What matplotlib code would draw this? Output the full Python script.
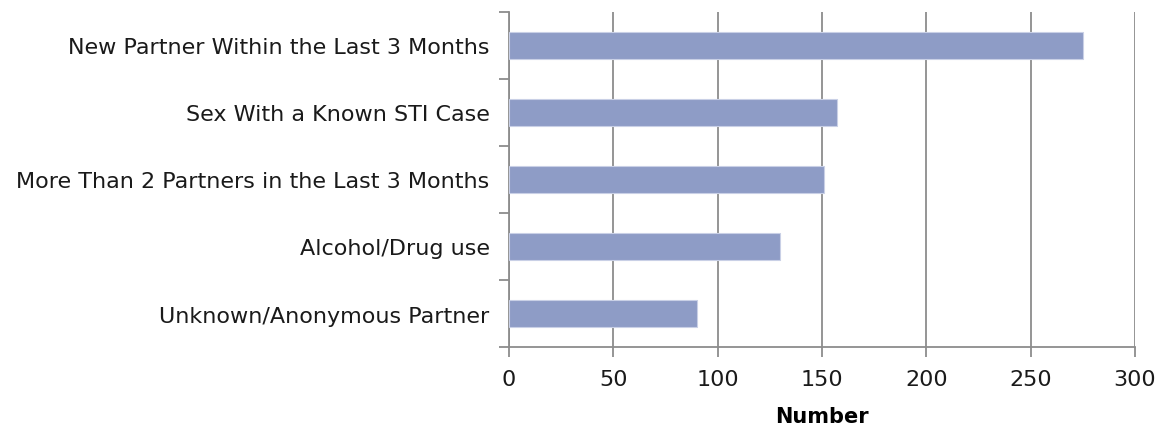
import matplotlib
matplotlib.use("Agg")
import matplotlib.pyplot as plt
from matplotlib.ticker import FixedLocator, NullFormatter

categories = [
    "New Partner Within the Last 3 Months",
    "Sex With a Known STI Case",
    "More Than 2 Partners in the Last 3 Months",
    "Alcohol/Drug use",
    "Unknown/Anonymous Partner",
]
values = [275, 157, 151, 130, 90]
x_ticks = [0, 50, 100, 150, 200, 250, 300]
x_label = "Number"

plt.rcParams['font.family'] = ['DejaVu Sans']
GRID = '#8c8c8c'
BAR = '#8e9cc6'
TXT = '#1a1a1a'

fig = plt.figure(figsize=(11.57, 4.27), dpi=100)
ax = fig.add_axes([0.4399, 0.185, 0.981 - 0.4399, 0.9696 - 0.185])

ypos = list(range(len(categories)))
ax.barh(ypos, values, height=0.4, color=BAR, edgecolor='#c9d0e6', linewidth=0.8, zorder=3)
ax.set_ylim(len(categories) - 0.5, -0.5)
ax.set_xlim(0, 300)

ax.set_yticks(ypos)
ax.set_yticklabels(categories, fontsize=16, color=TXT)
ax.tick_params(axis='y', which='major', length=0, pad=14)
ax.yaxis.set_minor_locator(FixedLocator([i - 0.5 for i in range(len(categories) + 1)]))
ax.yaxis.set_minor_formatter(NullFormatter())
ax.tick_params(axis='y', which='minor', length=7, width=1.3, color=GRID, direction='out')

ax.set_xticks(x_ticks)
ax.set_xticklabels([str(t) for t in x_ticks], fontsize=16, color=TXT)
ax.tick_params(axis='x', length=7, width=1.3, color=GRID, direction='out', pad=9)
ax.xaxis.grid(True, color=GRID, linewidth=1.3, zorder=0)
ax.set_axisbelow(True)
ax.set_xlabel(x_label, fontsize=15, fontweight='bold', labelpad=12, color='black')

for s in ['top', 'right']:
    ax.spines[s].set_visible(False)
for s in ['left', 'bottom']:
    ax.spines[s].set_color(GRID)
    ax.spines[s].set_linewidth(1.3)

fig.savefig('out.png', dpi=100, facecolor='white')
